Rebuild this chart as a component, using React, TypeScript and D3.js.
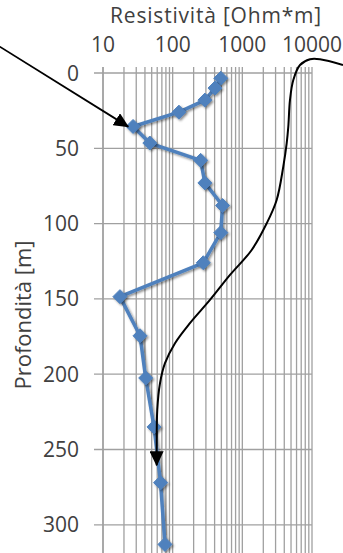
import React, { useEffect, useRef } from 'react';
import * as d3 from 'd3';

// Misure di resistività (sondaggio)
const depths = [3.5, 10, 18, 26, 35.5, 46.5, 58, 73, 88, 106, 126, 148.5, 174.5, 202.5, 235, 272, 313];
const resistivity = [490, 405, 290, 123, 27, 47, 252, 290, 520, 490, 275, 17.5, 34, 41, 54, 67, 77.5];

// Curva disegnata a mano (profondità, resistività)
const curveDepths = [-5.3, -9.1, -9.1, -5.3, 4.6, 17.9, 35.6, 46.7, 62.2, 84.3, 99.8, 117.5, 134.1, 150.7, 166.1, 179.4, 192.7, 206, 223.7, 250.2, 260.5];
const curveRes = [27870, 13030, 9360, 6730, 5390, 4830, 4570, 4330, 3870, 3110, 2240, 1362, 665, 343, 177, 108, 77.6, 65.8, 60.1, 59, 59];

// Freccia in alto a sinistra
const arrowDepths = [-17.5, 35.6];
const arrowRes = [0.33, 23];

const depthTicks = [0, 50, 100, 150, 200, 250, 300];
const resTicks = [10, 100, 1000, 10000];

const App = () => {
  const svgRef = useRef<SVGSVGElement>(null);
  const width = 343;
  const height = 553;

  useEffect(() => {
    document.body.style.margin = '0';
    const svg = d3.select(svgRef.current);
    svg.selectAll('*').remove();

    const x = d3.scaleLog().domain([10, 10000]).range([103, 312]);
    const y = d3.scaleLinear().domain([0, 330]).range([73, 570]);
    const font = '"Open Sans", sans-serif';
    const gridColor = '#a0a0a0';
    const textColor = '#404040';

    const defs = svg.append('defs');
    defs.append('marker')
      .attr('id', 'arrow')
      .attr('markerUnits', 'userSpaceOnUse')
      .attr('markerWidth', 15)
      .attr('markerHeight', 14)
      .attr('viewBox', '0 0 15 14')
      .attr('refX', 14)
      .attr('refY', 7)
      .attr('orient', 'auto')
      .append('path')
      .attr('d', 'M0,0 L15,7 L0,14 Z')
      .attr('fill', '#000');

    const shadow = defs.append('filter')
      .attr('id', 'shadow')
      .attr('x', '-50%').attr('y', '-50%')
      .attr('width', '200%').attr('height', '200%');
    shadow.append('feDropShadow')
      .attr('dx', 1.5).attr('dy', 1.5)
      .attr('stdDeviation', 1.3)
      .attr('flood-color', '#000')
      .attr('flood-opacity', 0.45);

    // Griglia verticale (log)
    const allTicks = x.ticks();
    svg.append('g')
      .selectAll('line')
      .data(allTicks)
      .enter()
      .append('line')
      .attr('x1', d => x(d)).attr('x2', d => x(d))
      .attr('y1', y(0) - 6).attr('y2', height)
      .attr('stroke', gridColor)
      .attr('stroke-width', 1.3);

    // Griglia orizzontale
    svg.append('g')
      .selectAll('line')
      .data(depthTicks)
      .enter()
      .append('line')
      .attr('x1', 94).attr('x2', x(10000))
      .attr('y1', d => y(d)).attr('y2', d => y(d))
      .attr('stroke', gridColor)
      .attr('stroke-width', 1.3);

    // Asse sinistro
    svg.append('line')
      .attr('x1', x(10)).attr('x2', x(10))
      .attr('y1', y(0) - 6).attr('y2', height)
      .attr('stroke', gridColor)
      .attr('stroke-width', 1.5);

    // Etichette
    svg.append('g')
      .selectAll('text')
      .data(depthTicks)
      .enter()
      .append('text')
      .attr('x', 79)
      .attr('y', d => y(d))
      .attr('dy', '0.36em')
      .attr('text-anchor', 'end')
      .attr('font-family', font)
      .attr('font-size', 21)
      .attr('fill', textColor)
      .text(d => d);

    svg.append('g')
      .selectAll('text')
      .data(resTicks)
      .enter()
      .append('text')
      .attr('x', d => x(d))
      .attr('y', 51.5)
      .attr('text-anchor', 'middle')
      .attr('font-family', font)
      .attr('font-size', 21)
      .attr('fill', textColor)
      .text(d => d);

    svg.append('text')
      .attr('x', 216)
      .attr('y', 23)
      .attr('text-anchor', 'middle')
      .attr('font-family', font)
      .attr('font-size', 21)
      .attr('letter-spacing', 0.8)
      .attr('fill', textColor)
      .text('Resistività [Ohm*m]');

    svg.append('text')
      .attr('transform', 'translate(31,315) rotate(-90)')
      .attr('text-anchor', 'middle')
      .attr('font-family', font)
      .attr('font-size', 22)
      .attr('fill', textColor)
      .text('Profondità [m]');

    // Serie misurata
    const pts = depths.map((d, i) => [resistivity[i], d] as [number, number]);
    const line = d3.line<[number, number]>()
      .x(d => x(d[0]))
      .y(d => y(d[1]));

    svg.append('path')
      .datum(pts)
      .attr('d', line)
      .attr('fill', 'none')
      .attr('stroke', '#4f81bd')
      .attr('stroke-width', 3.5)
      .attr('stroke-linejoin', 'round')
      .attr('filter', 'url(#shadow)');

    svg.append('g')
      .selectAll('path')
      .data(pts)
      .enter()
      .append('path')
      .attr('transform', d => `translate(${x(d[0])},${y(d[1])})`)
      .attr('d', 'M0,-7 L7,0 L0,7 L-7,0 Z')
      .attr('fill', '#4f81bd')
      .attr('stroke', '#4f81bd')
      .attr('stroke-width', 1)
      .attr('filter', 'url(#shadow)');

    // Curva nera con freccia
    const curvePts = curveDepths.map((d, i) => [curveRes[i], d] as [number, number]);
    svg.append('path')
      .datum(curvePts)
      .attr('d', line.curve(d3.curveCatmullRom.alpha(0.5)))
      .attr('fill', 'none')
      .attr('stroke', '#000')
      .attr('stroke-width', 2)
      .attr('marker-end', 'url(#arrow)');

    // Freccia in alto a sinistra
    const arrowPts = arrowDepths.map((d, i) => [arrowRes[i], d] as [number, number]);
    svg.append('path')
      .datum(arrowPts)
      .attr('d', d3.line<[number, number]>().x(d => x(d[0])).y(d => y(d[1])))
      .attr('fill', 'none')
      .attr('stroke', '#000')
      .attr('stroke-width', 1.8)
      .attr('marker-end', 'url(#arrow)');
  }, []);

  return (
    <div style={{ width, height, overflow: 'hidden', background: '#fff' }}>
      <svg ref={svgRef} width={width} height={height} style={{ display: 'block' }} />
    </div>
  );
};

export default App;
